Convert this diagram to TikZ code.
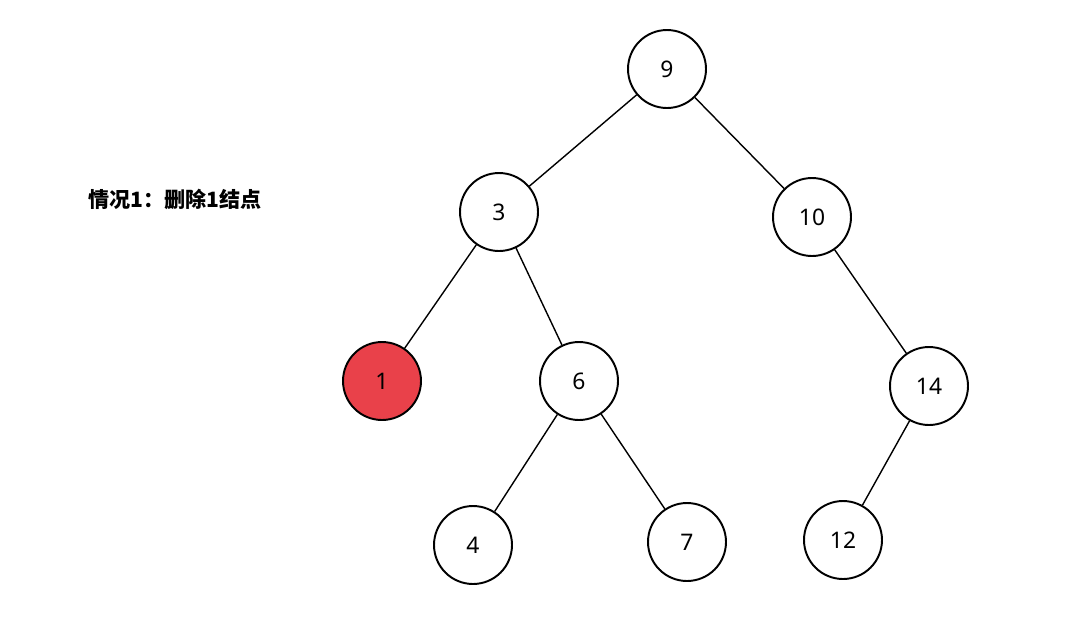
\documentclass[tikz,border=0pt]{standalone}
\usepackage{fontspec}
\setmainfont{Noto Sans}
\newfontfamily\cjk{Noto Sans CJK SC}
\definecolor{delred}{RGB}{233,65,74}
\tikzset{
  vertex/.style={circle, draw, line width=1.1pt, minimum size=1.56cm, inner sep=0pt, font=\fontsize{13}{15}\selectfont},
  removed/.style={vertex, fill=delred},
  edge/.style={line width=0.8pt}
}

\begin{document}
\begin{tikzpicture}[x=0.02cm, y=-0.02cm]
    \useasboundingbox (0,0) rectangle (1090,627);

    % Caption.
    \node (caption) at (175,199) {\cjk\bfseries\fontsize{12}{14}\selectfont 情况1：删除1结点};

    % Nodes.
    \node [vertex]  (n9)  at (667,69)  {9};
    \node [vertex]  (n3)  at (499,212) {3};
    \node [vertex]  (n10) at (812,217) {10};
    \node [removed] (n1)  at (382,381) {1};
    \node [vertex]  (n6)  at (579,381) {6};
    \node [vertex]  (n14) at (929,386) {14};
    \node [vertex]  (n4)  at (473,545) {4};
    \node [vertex]  (n7)  at (687,542) {7};
    \node [vertex]  (n12) at (843,540) {12};

    % Edges.
    \draw [edge] (n9)  -- (n3);
    \draw [edge] (n9)  -- (n10);
    \draw [edge] (n3)  -- (n1);
    \draw [edge] (n3)  -- (n6);
    \draw [edge] (n10) -- (n14);
    \draw [edge] (n6)  -- (n4);
    \draw [edge] (n6)  -- (n7);
    \draw [edge] (n14) -- (n12);

\end{tikzpicture}
\end{document}
